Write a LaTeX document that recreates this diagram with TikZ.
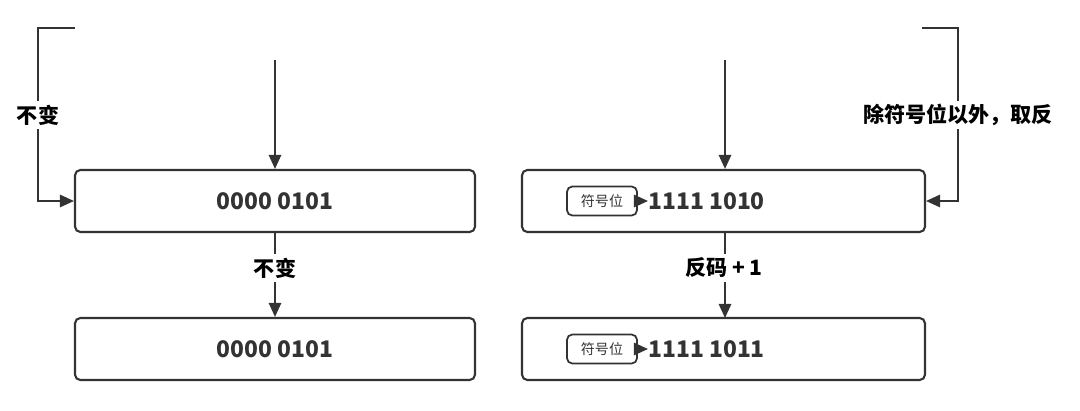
\documentclass[tikz,border=0pt]{standalone}
\usepackage{fontspec}
\setmainfont{Noto Sans CJK SC}
\usetikzlibrary{arrows.meta}
\definecolor{ln}{HTML}{333333}
\begin{document}
\begin{tikzpicture}[x=0.02cm,y=-0.02cm,
  box/.style={draw=ln,line width=1.2pt,rounded corners=3pt,minimum width=8cm,minimum height=1.24cm},
  sbox/.style={draw=ln,line width=1pt,rounded corners=3pt,minimum width=1.4cm,minimum height=0.58cm,font=\fontsize{8}{9}\selectfont,text=ln},
  num/.style={font=\bfseries\fontsize{13}{15}\selectfont,text=ln},
  lab/.style={font=\bfseries\fontsize{12}{14}\selectfont,fill=white,inner sep=2pt},
  arr/.style={draw=ln,line width=1.2pt,-{Triangle[length=8pt,width=7pt]}}]
\useasboundingbox (0,0) rectangle (1080,410);
\node[box] (L1) at (275,201) {};
\node[box] (L2) at (275,349) {};
\node[box,minimum width=8.06cm] (R1) at (723.5,201) {};
\node[box,minimum width=8.06cm] (R2) at (723.5,349) {};
\node[num] at (L1) {0000 0101};
\node[num] at (L2) {0000 0101};
\node[sbox] (s1) at (602,201) {符号位};
\node[sbox] (s2) at (602,349) {符号位};
\node[num,anchor=west,inner sep=0pt] (t1) at (648,201) {1111 1010};
\node[num,anchor=west,inner sep=0pt] (t2) at (648,349) {1111 1011};
\draw[arr] (s1.east) -- (t1.west);
\draw[arr] (s2.east) -- (t2.west);
\coordinate (a) at (275,60);
\coordinate (b) at (725,60);
\draw[arr] (a) -- (L1.north);
\draw[arr] (b) -- (b|-R1.north);
\draw[arr] (L1.south) -- (L2.north);
\draw[arr] (725,232) -- (725,318);
\node[lab] at (275,268) {不变};
\node[lab] at (724,268) {反码 + 1};
\coordinate (lt) at (75,28);
\coordinate (rt) at (922,28);
\draw[arr] (lt) -- (38,28) -- (38,201) -- (L1.west);
\draw[arr] (rt) -- (958,28) -- (958,201) -- (R1.east);
\node[lab] at (38,115) {不变};
\node[lab] at (958,115) {除符号位以外，取反};
\end{tikzpicture}
\end{document}
